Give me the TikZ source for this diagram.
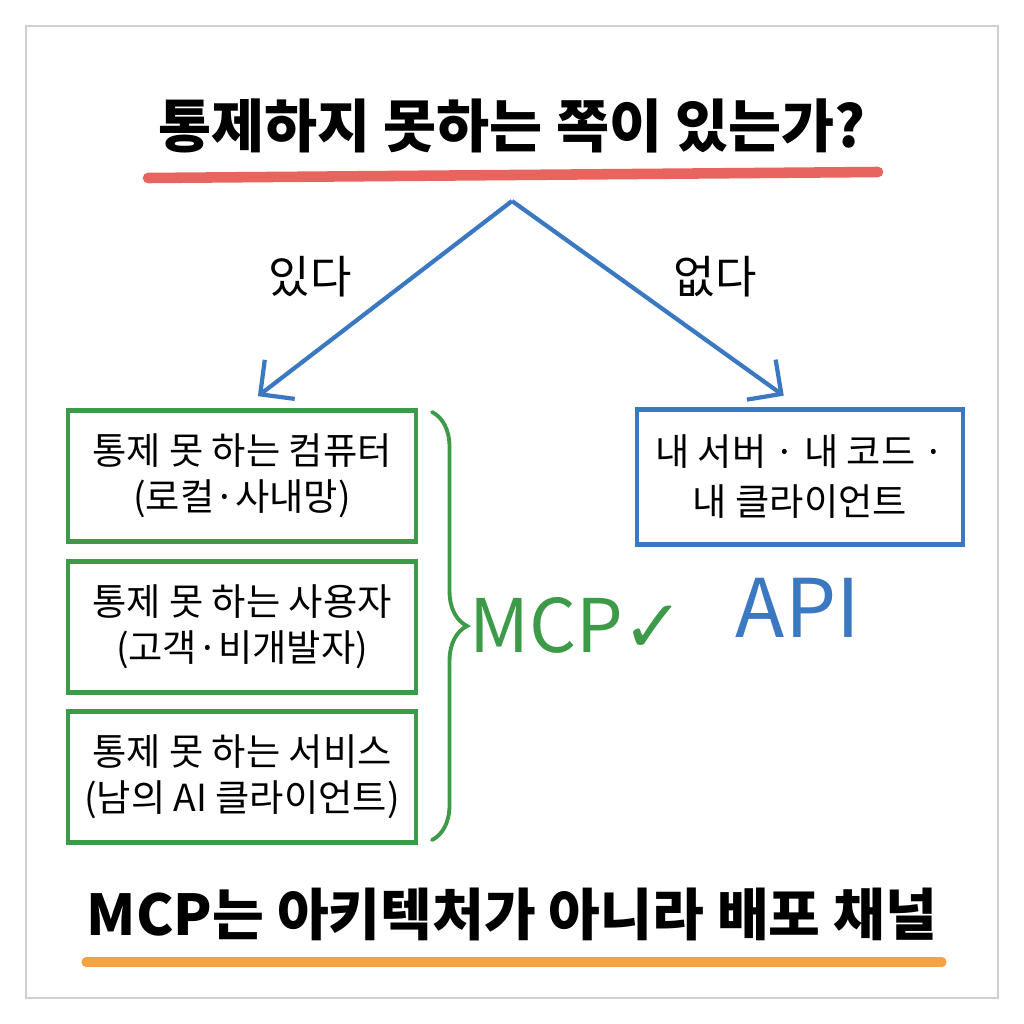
\documentclass[tikz,border=0pt]{standalone}
\usepackage{fontspec}
\newfontfamily\kr{Noto Sans CJK KR}
\newfontfamily\sym{DejaVu Sans}
\usetikzlibrary{arrows.meta, decorations.pathreplacing}

\definecolor{linered}{HTML}{E8655F}
\definecolor{mcpgreen}{HTML}{3D9A48}
\definecolor{apiblue}{HTML}{3A78C2}
\definecolor{lineorange}{HTML}{F4A340}
\definecolor{framegray}{HTML}{D0D0D0}

\begin{document}
\begin{tikzpicture}[x=0.01cm, y=-0.01cm,
    every node/.style={font=\kr},
    greenbox/.style={draw=mcpgreen, line width=1.2pt, minimum width=3.48cm,
      minimum height=1.31cm, align=center, font=\kr\fontsize{10.6}{13.2}\selectfont},
    bluebox/.style={draw=apiblue, line width=1.2pt, minimum width=3.26cm,
      minimum height=1.35cm, align=center, font=\kr\fontsize{10.6}{14.2}\selectfont},
    branch/.style={draw=apiblue, line width=1.2pt, shorten >=0.2cm,
      -{Straight Barb[length=7pt, width=14pt]}},
  ]
  \fill[white] (0,0) rectangle (1024,1024);
  \useasboundingbox (0,0) rectangle (1024,1024);
  \draw[framegray, line width=0.7pt] (26,26) rectangle (998,998);

  % 1. 질문과 밑줄
  \node (title) at (512,126) {\bfseries\fontsize{16.4}{18}\selectfont 통제하지 못하는 쪽이 있는가?};
  \draw[linered, line width=3pt, line cap=round] (148,178) -- (878,172);

  % 2. 있다 / 없다 갈림길
  \coordinate (apex) at (512,201);
  \node (yes) at (310,277) {\fontsize{12.8}{14}\selectfont 있다};
  \node (no) at (715,277) {\fontsize{12.8}{14}\selectfont 없다};

  % 3. 통제 못 하는 쪽 (MCP)
  \node[greenbox] (cpu) at (242,476) {통제 못 하는 컴퓨터\\(로컬·사내망)};
  \node[greenbox] (user) at (242,627) {통제 못 하는 사용자\\(고객·비개발자)};
  \node[greenbox] (svc) at (242,777) {통제 못 하는 서비스\\(남의 AI 클라이언트)};

  % 4. 전부 내 것 (API)
  \node[bluebox] (own) at (800,477) {내 서버 · 내 코드 ·\\내 클라이언트};

  \draw[branch] (apex) -- (cpu.north);
  \draw[branch] (apex) -- (own.north);

  % 5. 중괄호와 결론
  \coordinate (btop) at (432,412);
  \coordinate (bbot) at (432,840);
  \draw[mcpgreen, line width=1.1pt, line cap=round, decorate,
    decoration={brace, amplitude=0.35cm}] (btop) -- (bbot);
  \node[text=mcpgreen] (mcp) at (577,625) {\fontsize{21}{24}\selectfont MCP{\sym ✓}};
  \node[text=apiblue] (api) at (798,608) {\fontsize{23}{26}\selectfont API};

  % 6. 한 줄 요약
  \node (motto) at (512,914) {\bfseries\fontsize{16}{18}\selectfont MCP는 아키텍처가 아니라 배포 채널};
  \draw[lineorange, line width=2.6pt, line cap=round] (86,962) -- (942,962);
\end{tikzpicture}
\end{document}
